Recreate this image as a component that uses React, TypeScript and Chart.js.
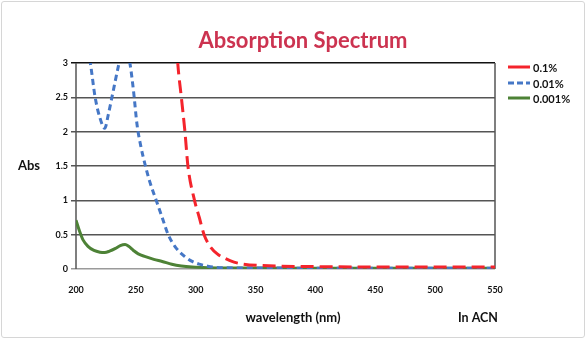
import React, { useEffect, useRef } from "react";
import { Chart, registerables } from "chart.js";

Chart.register(...registerables);

const TITLE = "Absorption Spectrum";
const Y_LABEL = "Abs";
const X_LABEL = "wavelength (nm)";
const NOTE = "In ACN";

const X_TICKS = [200, 250, 300, 350, 400, 450, 500, 550];
const Y_TICKS = [0, 0.5, 1, 1.5, 2, 2.5, 3];

const seriesLabels = ["0.1%", "0.01%", "0.001%"];

const redWl = [284, 285, 288, 291, 293.5, 299, 303, 307, 312, 318, 325, 332, 340, 355, 400, 450, 500, 550];
const redAbs = [3.3, 3.0, 2.5, 2.0, 1.5, 1.0, 0.75, 0.5, 0.33, 0.22, 0.15, 0.1, 0.07, 0.05, 0.035, 0.03, 0.03, 0.03];

const blueWl = [210, 212, 216, 220, 224, 227, 230, 236, 240.5, 245, 248, 251, 254, 258, 262, 267, 272, 277, 283, 291, 297, 303, 310, 320, 340, 400, 550];
const blueAbs = [3.2, 3.0, 2.5, 2.2, 2.05, 2.25, 2.5, 3.0, 3.3, 3.0, 2.6, 2.1, 1.8, 1.5, 1.25, 1.0, 0.75, 0.5, 0.32, 0.18, 0.11, 0.07, 0.04, 0.02, 0.015, 0.012, 0.01];

const greenWl = [200, 203, 206, 210, 215, 220, 224, 228, 233, 237, 241, 244, 248, 252, 258, 265, 272, 280, 288, 297, 310, 330, 400, 550];
const greenAbs = [0.71, 0.55, 0.42, 0.33, 0.27, 0.245, 0.24, 0.26, 0.3, 0.34, 0.355, 0.33, 0.27, 0.22, 0.18, 0.14, 0.11, 0.07, 0.045, 0.03, 0.02, 0.015, 0.012, 0.012];

const FONT = "Lato, 'Open Sans', sans-serif";

const toPts = (xs: number[], ys: number[]) => xs.map((x, i) => ({ x, y: ys[i] }));

const decorPlugin = {
  id: "decor",
  beforeDatasetsDraw(chart: any) {
    const { ctx, chartArea: a } = chart;
    ctx.save();
    ctx.strokeStyle = "#555";
    ctx.lineWidth = 1.5;
    ctx.beginPath();
    ctx.moveTo(a.left, a.top);
    ctx.lineTo(a.left, a.bottom);
    ctx.moveTo(a.right, a.top);
    ctx.lineTo(a.right, a.bottom);
    ctx.stroke();
    ctx.restore();
  },
  afterDraw(chart: any) {
    const { ctx } = chart;
    ctx.save();
    ctx.fillStyle = "#cc3350";
    ctx.font = `bold 22px ${FONT}`;
    ctx.textAlign = "center";
    ctx.textBaseline = "alphabetic";
    ctx.fillText(TITLE, 303, 48);

    ctx.fillStyle = "#111";
    ctx.font = `bold 13px ${FONT}`;
    ctx.textBaseline = "middle";
    ctx.fillText(Y_LABEL, 29, 166);
    ctx.font = `bold 13px ${FONT}`;
    ctx.fillText(X_LABEL, 293, 318);
    ctx.font = `bold 12.5px ${FONT}`;
    ctx.fillText(NOTE, 478, 318);

    // legend
    const items = chart.data.datasets;
    const ys = [67, 83, 98];
    items.forEach((ds: any, i: number) => {
      const y = ys[i];
      ctx.strokeStyle = ds.borderColor;
      ctx.lineWidth = 3;
      ctx.setLineDash(i === 1 ? [6, 3] : []);
      ctx.beginPath();
      ctx.moveTo(508, y);
      ctx.lineTo(530, y);
      ctx.stroke();
      ctx.setLineDash([]);
      ctx.fillStyle = "#111";
      ctx.font = `bold 11px ${FONT}`;
      ctx.textAlign = "left";
      ctx.textBaseline = "middle";
      ctx.fillText(ds.label, 533, y + 1);
    });
    ctx.restore();
  },
};

export default function App() {
  const ref = useRef<HTMLCanvasElement>(null);
  useEffect(() => {
    const chart = new Chart(ref.current!, {
      type: "line",
      data: {
        datasets: [
          {
            label: seriesLabels[0],
            data: toPts(redWl, redAbs),
            borderColor: "#f4242c",
            borderWidth: 3,
            borderDash: [13, 6],
            pointRadius: 0,
            cubicInterpolationMode: "monotone",
            fill: false,
          },
          {
            label: seriesLabels[1],
            data: toPts(blueWl, blueAbs),
            borderColor: "#4577c6",
            borderWidth: 3,
            borderDash: [6, 4],
            pointRadius: 0,
            cubicInterpolationMode: "monotone",
            fill: false,
          },
          {
            label: seriesLabels[2],
            data: toPts(greenWl, greenAbs),
            borderColor: "#4d8236",
            borderWidth: 3,
            pointRadius: 0,
            cubicInterpolationMode: "monotone",
            fill: false,
          },
        ],
      },
      options: {
        responsive: false,
        animation: false,
        layout: { padding: { top: 63, right: 92, left: 0, bottom: 0 } },
        plugins: { legend: { display: false }, title: { display: false }, tooltip: { enabled: false } },
        scales: {
          x: {
            type: "linear",
            min: 200,
            max: 550,
            afterBuildTicks: (s: any) => {
              s.ticks = X_TICKS.map((v) => ({ value: v }));
            },
            afterFit: (s: any) => {
              s.height = 71;
            },
            grid: { display: false },
            border: { display: false },
            ticks: {
              padding: 8,
              maxRotation: 0,
              autoSkip: false,
              color: "#111",
              font: { family: FONT, size: 9, weight: "bold" },
              callback: (v: any) => String(v),
            },
          },
          y: {
            min: 0,
            max: 3,
            afterBuildTicks: (s: any) => {
              s.ticks = Y_TICKS.map((v) => ({ value: v }));
            },
            afterFit: (s: any) => {
              s.width = 76;
            },
            border: { display: false },
            grid: {
              color: (c: any) => (c.tick && c.tick.value === 3 ? "#111" : c.tick && c.tick.value === 0 ? "#9a9a9a" : "#555"),
              lineWidth: 1.5,
              tickLength: 5,
            },
            ticks: {
              padding: 3,
              color: "#111",
              font: { family: FONT, size: 9, weight: "bold" },
              callback: (v: any) => String(v),
            },
          },
        },
      },
      plugins: [decorPlugin],
    } as any);
    return () => chart.destroy();
  }, []);
  return (
    <div style={{ position: "fixed", left: 0, top: 0, width: 587, height: 340, background: "#fff" }}>
      <canvas ref={ref} width={587} height={340} style={{ position: "absolute", left: 0, top: 0 }} />
      <div
        style={{
          position: "absolute",
          left: 1,
          top: 1,
          width: 584,
          height: 337,
          boxSizing: "border-box",
          border: "1px solid #d6d6d6",
          borderRadius: 3,
          pointerEvents: "none",
        }}
      />
    </div>
  );
}
